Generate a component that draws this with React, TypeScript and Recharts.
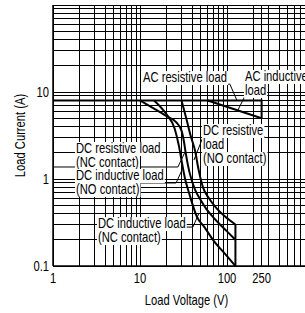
import React from 'react';
import {
  LineChart,
  Line,
  XAxis,
  YAxis,
  CartesianGrid,
  ReferenceLine,
  ReferenceDot,
} from 'recharts';

// grid values (log-log)
const xGrid = [1, 2, 3, 4, 5, 6, 7, 8, 9, 10, 20, 30, 40, 50, 60, 70, 80, 90, 100, 200, 250, 300, 400, 500, 600, 700, 800, 900, 1000];
const yGrid = [0.1, 0.2, 0.3, 0.4, 0.5, 0.6, 0.7, 0.8, 0.9, 1, 2, 3, 4, 5, 6, 7, 8, 9, 10, 20, 30, 40, 50, 60, 70, 80, 90, 100];
const xLabels = [1, 10, 100, 250];
const yLabels = [0.1, 1, 10];

// curves: v = load voltage (V), a = load current (A)
const acResistive = [{ v: 1, a: 8 }, { v: 250, a: 8 }, { v: 250, a: 5 }];
const acInductive = [{ v: 60, a: 8 }, { v: 250, a: 5 }];
const dcResistiveNO = [
  { v: 30, a: 8 }, { v: 34, a: 5 }, { v: 38, a: 3.2 }, { v: 43, a: 2.1 }, { v: 47, a: 1.3 },
  { v: 53, a: 0.8 }, { v: 62, a: 0.6 }, { v: 76, a: 0.46 }, { v: 95, a: 0.37 }, { v: 125, a: 0.3 },
];
const dcResistiveNC = [
  { v: 10, a: 8 }, { v: 15, a: 6.3 }, { v: 20, a: 5.3 }, { v: 26, a: 4.5 }, { v: 30, a: 3.6 },
  { v: 32, a: 2.7 }, { v: 33.5, a: 2.0 }, { v: 37, a: 1.2 }, { v: 43, a: 0.75 }, { v: 50, a: 0.57 },
  { v: 58, a: 0.45 }, { v: 70, a: 0.36 }, { v: 83, a: 0.3 }, { v: 100, a: 0.25 }, { v: 125, a: 0.2 },
];
const dcInductiveNC = [
  { v: 14.5, a: 8 }, { v: 20, a: 5.6 }, { v: 25, a: 3.8 }, { v: 28, a: 2.4 }, { v: 30.5, a: 1.5 },
  { v: 33, a: 1.0 }, { v: 36.5, a: 0.7 }, { v: 45, a: 0.37 }, { v: 55, a: 0.28 }, { v: 69, a: 0.2 },
  { v: 100, a: 0.13 }, { v: 125, a: 0.1 },
];
const dcLimit = [{ v: 125, a: 0.3 }, { v: 125, a: 0.1 }];

// annotation leaders (underline + pointer), in data units
const leaders = [
  [{ v: 10.8, a: 12.3 }, { v: 108, a: 12.3 }, { v: 130, a: 8 }],
  [{ v: 161, a: 9 }, { v: 133, a: 6.15 }],
  [{ v: 273, a: 3.04 }, { v: 53, a: 3.04 }, { v: 41.7, a: 1.65 }],
  [{ v: 1, a: 1.374 }, { v: 27.3, a: 1.374 }, { v: 32.9, a: 2.04 }],
  [{ v: 1.84, a: 0.9 }, { v: 26, a: 0.9 }, { v: 30.4, a: 1.27 }],
  [{ v: 3.2, a: 0.28 }, { v: 40.6, a: 0.28 }, { v: 47.7, a: 0.407 }],
];

const notes = [
  { v: 10.83, a: 13.0, lines: ['AC resistive load'] },
  { v: 161, a: 13.4, lines: ['AC inductive', 'load'] },
  { v: 53, a: 3.2, lines: ['DC resistive', 'load', '(NO contact)'] },
  { v: 1.84, a: 1.99, lines: ['DC resistive load', '(NC contact)'] },
  { v: 1.84, a: 0.974, lines: ['DC inductive load', '(NO contact)'] },
  { v: 3.29, a: 0.273, lines: ['DC inductive load', '(NC contact)'] },
];

const FONT = '"Liberation Sans", Arial, sans-serif';
const SQUEEZE = 0.8;
const noteSize = 14;
const lineGap = 14;

// rough Arial advance widths (per 1000 em)
const W: Record<string, number> = {
  A: 667, C: 722, D: 722, N: 722, O: 778, ' ': 278, '(': 333, ')': 333,
  a: 556, c: 500, d: 556, e: 556, i: 222, l: 222, n: 556, o: 556, r: 333, s: 500, t: 278, u: 556, v: 500,
};
const textWidth = (t: string, size: number) =>
  t.split('').reduce((s, ch) => s + (W[ch] ?? 556), 0) / 1000 * size * SQUEEZE;

const Narrow = ({ x, y, size, anchor = 'start', rotate = 0, children }: any) => (
  <text
    transform={`translate(${x} ${y}) rotate(${rotate}) scale(${SQUEEZE} 1)`}
    textAnchor={anchor}
    fontSize={size}
    fontFamily={FONT}
    fill="#000"
  >
    {children}
  </text>
);

const Note = ({ cx, cy, lines }: any) => {
  if (cx == null || cy == null) return null;
  return (
    <g>
      {lines.map((t: string, i: number) => (
        <g key={i}>
          <rect x={cx - 1} y={cy + i * lineGap - 11} width={textWidth(t, noteSize) + 2} height={14} fill="#fff" />
          <Narrow x={cx} y={cy + i * lineGap} size={noteSize}>{t}</Narrow>
        </g>
      ))}
    </g>
  );
};

const XTick = ({ x, y, payload }: any) => {
  if (!xLabels.includes(payload.value)) return null;
  return <Narrow x={x} y={y + 15} size={14} anchor="middle">{payload.value}</Narrow>;
};

const YTick = ({ x, y, payload }: any) => {
  if (!yLabels.includes(payload.value)) return null;
  return <Narrow x={x} y={y + 5} size={14} anchor="end">{payload.value}</Narrow>;
};

export default function App() {
  const smooth = [dcResistiveNO, dcResistiveNC, dcInductiveNC];
  const straight = [acResistive, acInductive, dcLimit];
  return (
    <div style={{ position: 'absolute', left: 0, top: 0, width: 305, height: 313, overflow: 'hidden', background: '#fff' }}>
      <LineChart width={320} height={313} margin={{ top: 5, right: 6, left: 0, bottom: 0 }}>
        <CartesianGrid stroke="#000" strokeWidth={1} shapeRendering="crispEdges" />
        <XAxis
          dataKey="v"
          type="number"
          scale="log"
          domain={[1, 1000]}
          allowDataOverflow
          ticks={xGrid}
          interval={0}
          tickLine={false}
          tickSize={0}
          tickMargin={2}
          height={47}
          axisLine={{ stroke: '#000', strokeWidth: 1.5 }}
          tick={<XTick />}
          label={{
            content: ({ viewBox }: any) => (
              <Narrow x={viewBox.x + viewBox.width / 2 + 3} y={viewBox.y + 39} size={14} anchor="middle">
                Load Voltage (V)
              </Narrow>
            ),
          }}
        />
        <YAxis
          dataKey="a"
          type="number"
          scale="log"
          domain={[0.1, 100]}
          allowDataOverflow
          ticks={yGrid}
          interval={0}
          tickLine={false}
          tickSize={0}
          tickMargin={4}
          width={53}
          axisLine={{ stroke: '#000', strokeWidth: 1.5 }}
          tick={<YTick />}
          label={{
            content: ({ viewBox }: any) => (
              <Narrow x={25} y={viewBox.y + viewBox.height / 2} size={14} anchor="middle" rotate={-90}>
                Load Current (A)
              </Narrow>
            ),
          }}
        />
        {notes.map((n, i) => (
          <ReferenceDot key={'n' + i} x={n.v} y={n.a} r={0} ifOverflow="visible" shape={(p: any) => <Note {...p} lines={n.lines} />} />
        ))}
        {leaders.map((pts, i) =>
          pts.slice(1).map((p, j) => (
            <ReferenceLine
              key={`l${i}-${j}`}
              segment={[{ x: pts[j].v, y: pts[j].a }, { x: p.v, y: p.a }]}
              stroke="#000"
              strokeWidth={1}
              ifOverflow="visible"
            />
          ))
        )}
        {straight.map((d, i) => (
          <Line key={'s' + i} data={d} dataKey="a" type="linear" stroke="#000" strokeWidth={2} dot={false} isAnimationActive={false} />
        ))}
        {smooth.map((d, i) => (
          <Line key={'c' + i} data={d} dataKey="a" type="monotone" stroke="#000" strokeWidth={2} dot={false} isAnimationActive={false} />
        ))}
      </LineChart>
    </div>
  );
}
